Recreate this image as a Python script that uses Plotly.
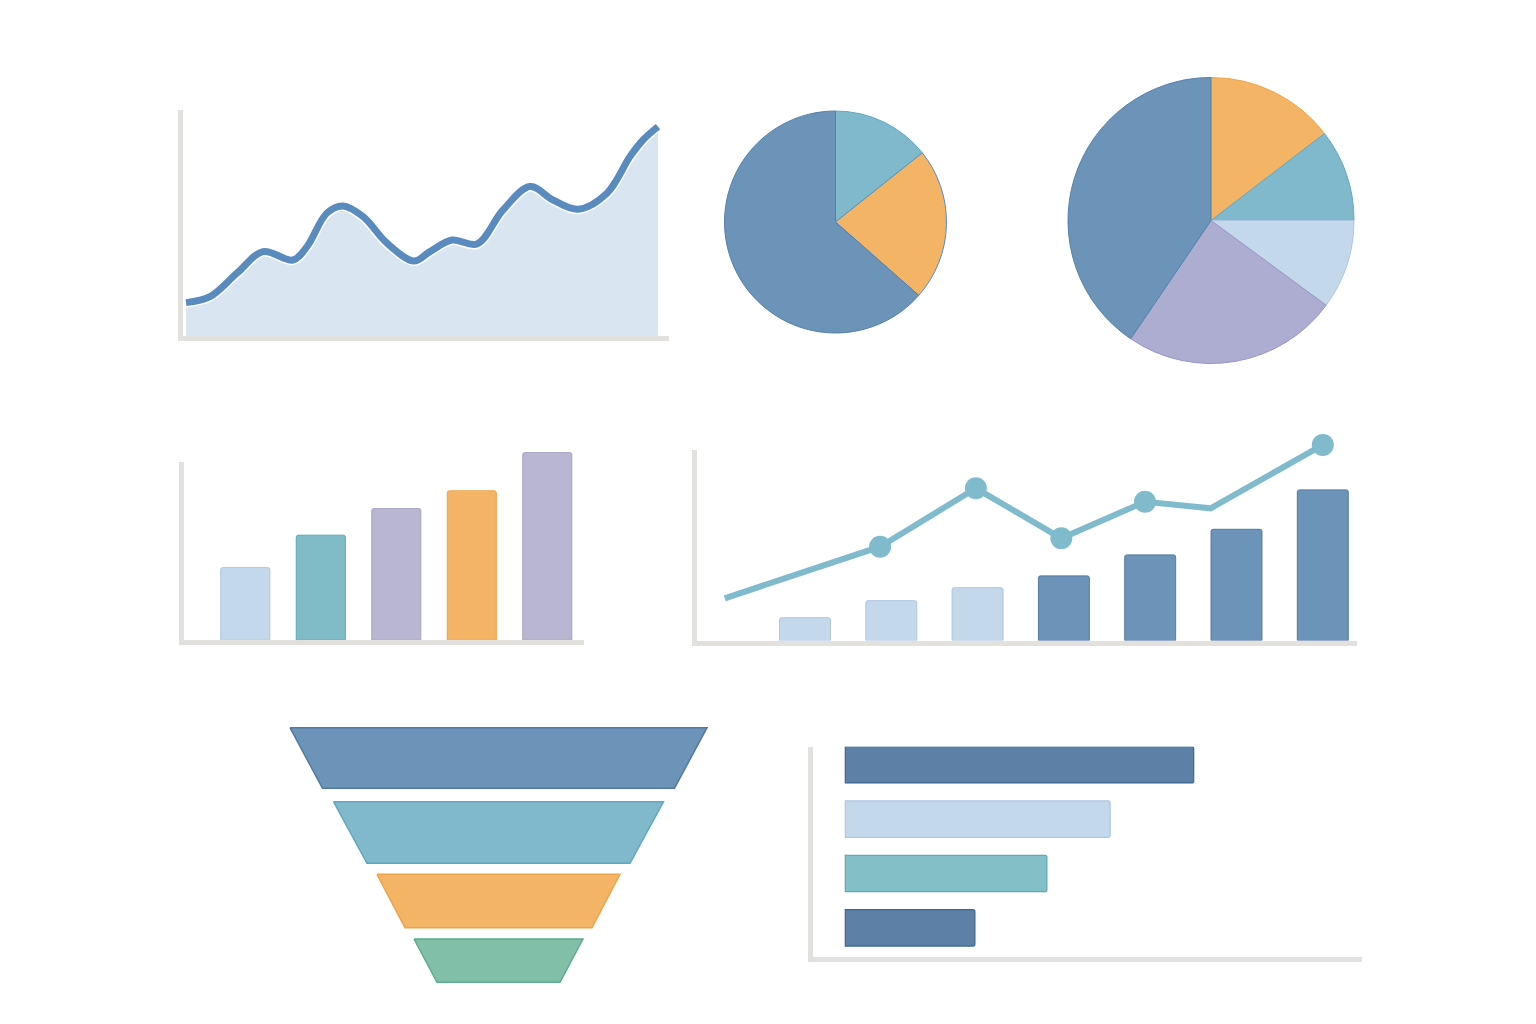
import plotly.graph_objects as go

# ---------------- data ----------------
# smooth area chart
area_x = [0, 2.4, 5.1, 7.7, 10.7, 12.1, 14.1, 15.7, 17.7, 20.1, 22.8, 24.4,
          26.6, 29.1, 31.7, 34.4, 36.7, 39.2, 42.1, 44.4, 45.7, 47.2]
area_y = [16.7, 19.7, 31.4, 42.2, 38.0, 44.7, 61.5, 65.0, 59.7, 46.4, 37.5, 42.2,
          48.0, 46.0, 63.0, 74.7, 68.0, 63.4, 71.4, 89.7, 98.0, 104.7]

# pie 1 (clockwise from 12 o'clock)
pie1_labels = ["Teal", "Orange", "Blue"]
pie1_values = [14.3, 22.2, 63.5]

# pie 2 (clockwise from 12 o'clock)
pie2_labels = ["Orange", "Teal", "Pale", "Lavender", "Blue"]
pie2_values = [14.6, 10.4, 10.1, 24.4, 40.5]

# vertical bar chart
bar1_cats = ["A", "B", "C", "D", "E"]
bar1_values = [36.3, 52.5, 65.8, 74.7, 93.8]

# combo chart: bars + line
combo_cats = ["1", "2", "3", "4", "5", "6", "7"]
combo_bar_values = [11.4, 19.9, 26.4, 32.3, 42.8, 55.6, 75.3]
combo_line_x = [-0.93, 0.87, 1.98, 2.97, 3.94, 4.70, 6.0]
combo_line_y = [21.1, 46.9, 76.1, 51.1, 69.4, 66.1, 97.8]
combo_line_marked = [False, True, True, True, True, False, True]

# funnel (widths at top and bottom of each stage)
funnel_stages = ["Stage 1", "Stage 2", "Stage 3", "Stage 4"]
funnel_top = [417, 330, 243, 169]
funnel_bottom = [352, 263, 187, 123]

# horizontal bars
hbar_cats = ["Q1", "Q2", "Q3", "Q4"]
hbar_values = [87.1, 66.2, 50.4, 32.4]

# ---------------- styles / layout constants ----------------
W, H = 1536, 1024
OFF = 8  # page body margin around the plot div
AXIS_COLOR = "#e3e1dd"
AXIS_W = 5

BLUE, BLUE_E = "#6c93b8", "#52799f"
TEAL, TEAL_E = "#80b9cb", "#5fa8bd"
ORANGE, ORANGE_E = "#f4b466", "#eea44c"
PALE, PALE_E = "#c4d8eb", "#adc6df"
LAV, LAV_E = "#adadd2", "#9797c4"
BAR_LAV, BAR_LAV_E = "#b8b6d1", "#a7a4c8"
BAR_TEAL, BAR_TEAL_E = "#80bcc8", "#5aa9b6"
HB_DARK, HB_DARK_E = "#5d81a6", "#3d6593"
HB_TEAL, HB_TEAL_E = "#82bfc6", "#5eaab3"
GREEN, GREEN_E = "#82bfa8", "#5eab8f"
AREA_LINE, AREA_FILL = "#5a8bbe", "#d9e6f1"
COMBO_LINE = "#7fbbcc"

# funnel row extents (in funnel axis units, top -> bottom)
FUNNEL_ROW_TOP = [7.7, 81.7, 154.3, 219.0]
FUNNEL_ROW_BOT = [68.3, 143.3, 207.7, 262.3]


def dom_x(a, b):
    return [(a - OFF) / W, (b - OFF) / W]


def dom_y(top, bottom):
    return [1 - (bottom - OFF) / H, 1 - (top - OFF) / H]


def rng(p_lo, p_hi, p0, scale):
    return [(p_lo - p0) / scale, (p_hi - p0) / scale]


fig = go.Figure()

# ---------------- area chart (x, y) ----------------
fig.add_trace(go.Scatter(
    x=area_x, y=area_y, mode="lines", line=dict(shape="spline", smoothing=1.0,
                                                color="white", width=10),
    fill="tozeroy", fillcolor=AREA_FILL, xaxis="x", yaxis="y", hoverinfo="skip"))
fig.add_trace(go.Scatter(
    x=area_x, y=area_y, mode="lines", line=dict(shape="spline", smoothing=1.0,
                                                color=AREA_LINE, width=7),
    xaxis="x", yaxis="y"))

# ---------------- pies ----------------
fig.add_trace(go.Pie(
    labels=pie1_labels, values=pie1_values, sort=False, direction="clockwise",
    textinfo="none", hole=0,
    marker=dict(colors=[TEAL, ORANGE, BLUE], line=dict(color=["#5fa8c8", "#4f8fc8", "#5580aa"], width=1)),
    domain=dict(x=dom_x(724.5, 946.5), y=dom_y(111, 333))))
fig.add_trace(go.Pie(
    labels=pie2_labels, values=pie2_values, sort=False, direction="clockwise",
    textinfo="none", hole=0,
    marker=dict(colors=[ORANGE, TEAL, PALE, LAV, BLUE],
                line=dict(color=[ORANGE_E, "#5fa8c8", PALE_E, LAV_E, "#5580aa"], width=1)),
    domain=dict(x=dom_x(1068, 1354), y=dom_y(77.5, 363.5))))

# ---------------- vertical bar chart (x2, y2) ----------------
fig.add_trace(go.Bar(
    x=bar1_cats, y=bar1_values, width=0.65,
    marker=dict(color=[PALE, BAR_TEAL, BAR_LAV, ORANGE, BAR_LAV],
                line=dict(color=[PALE_E, BAR_TEAL_E, BAR_LAV_E, ORANGE_E, BAR_LAV_E], width=1),
                cornerradius=2),
    xaxis="x2", yaxis="y2"))

# ---------------- combo chart (x3, y3) ----------------
fig.add_trace(go.Bar(
    x=list(range(len(combo_cats))), y=combo_bar_values, width=0.59,
    marker=dict(color=[PALE] * 3 + [BLUE] * 4,
                line=dict(color=[PALE_E] * 3 + [BLUE_E] * 4, width=1),
                cornerradius=2),
    xaxis="x3", yaxis="y3"))
fig.add_trace(go.Scatter(
    x=combo_line_x, y=combo_line_y, mode="lines+markers", cliponaxis=False,
    line=dict(color=COMBO_LINE, width=6),
    marker=dict(size=[22 if m else 0 for m in combo_line_marked], color=COMBO_LINE,
                opacity=1, line=dict(width=0)),
    xaxis="x3", yaxis="y3"))

# ---------------- horizontal bars (x4, y4) ----------------
fig.add_trace(go.Bar(
    x=hbar_values, y=hbar_cats, orientation="h", width=0.67,
    marker=dict(color=[HB_DARK, PALE, HB_TEAL, HB_DARK],
                line=dict(color=[HB_DARK_E, PALE_E, HB_TEAL_E, HB_DARK_E], width=1.2),
                cornerradius=2),
    xaxis="x4", yaxis="y4"))

# ---------------- funnel (x5, y5) ----------------
funnel_colors = [(BLUE, BLUE_E), (TEAL, TEAL_E), (ORANGE, ORANGE_E), (GREEN, GREEN_E)]
for i, name in enumerate(funnel_stages):
    t, b = funnel_top[i], funnel_bottom[i]
    y0, y1 = FUNNEL_ROW_TOP[i], FUNNEL_ROW_BOT[i]
    fc, ec = funnel_colors[i]
    fig.add_trace(go.Scatter(
        x=[-t / 2, t / 2, b / 2, -b / 2, -t / 2], y=[y0, y0, y1, y1, y0],
        mode="lines", fill="toself", fillcolor=fc, name=name,
        line=dict(color=ec, width=1.5),
        xaxis="x5", yaxis="y5"))

# ---------------- empty frame subplots (only carry the axis lines) ----------------
for xa, ya in [("x6", "y6"), ("x7", "y7")]:
    fig.add_trace(go.Scatter(x=[0.5], y=[0.5], mode="markers",
                             marker=dict(opacity=0, size=1), hoverinfo="skip",
                             xaxis=xa, yaxis=ya))

# ---------------- axes ----------------
frame = dict(showgrid=False, zeroline=False, showticklabels=False, ticks="",
             showline=True, linecolor=AXIS_COLOR, linewidth=AXIS_W, fixedrange=True)
hidden = dict(visible=False, showgrid=False, zeroline=False, fixedrange=True)

layout = dict(
    width=W, height=H, margin=dict(l=0, r=0, t=0, b=0),
    paper_bgcolor="white", plot_bgcolor="rgba(0,0,0,0)", showlegend=False,
    # area chart
    xaxis=dict(frame, domain=dom_x(182.5, 669), range=rng(182.5, 669, 186, 10), anchor="y"),
    yaxis=dict(frame, domain=dom_y(110, 336.2), range=rng(336.2, 110, 336, -2), anchor="x"),
    # bar chart data (taller than its frame so the last bar is not clipped)
    xaxis2=dict(hidden, domain=dom_x(183.5, 584), type="category",
                range=rng(183.5, 584, 245.3, 75.5), anchor="y2"),
    yaxis2=dict(hidden, domain=dom_y(430, 640.2), range=rng(640.2, 430, 640.2, -2), anchor="x2"),
    # bar chart frame
    xaxis6=dict(frame, domain=dom_x(183.5, 584), range=[0, 1], anchor="y6"),
    yaxis6=dict(frame, domain=dom_y(462, 640.2), range=[0, 1], anchor="x6"),
    # combo chart data
    xaxis3=dict(hidden, domain=dom_x(696.5, 1357), range=rng(696.5, 1357, 805, 86.3), anchor="y3"),
    yaxis3=dict(hidden, domain=dom_y(420, 640.5), range=rng(640.5, 420, 640.5, -2), anchor="x3"),
    # combo chart frame
    xaxis7=dict(frame, domain=dom_x(696.5, 1357), range=[0, 1], anchor="y7"),
    yaxis7=dict(frame, domain=dom_y(450, 640.5), range=[0, 1], anchor="x7"),
    # horizontal bars
    xaxis4=dict(frame, domain=dom_x(813, 1362), range=rng(813, 1362, 845.3, 4), anchor="y4"),
    yaxis4=dict(frame, domain=dom_y(746.7, 957.2), type="category",
                range=rng(957.2, 746.7, 764.7, 54.4), anchor="x4"),
    # funnel
    xaxis5=dict(hidden, domain=dom_x(280, 717), range=[-218.5, 218.5], anchor="y5"),
    yaxis5=dict(hidden, domain=dom_y(720, 990), range=[270, 0], anchor="x5"),
)
fig.update_layout(**layout)

fig.write_html("out.html")
